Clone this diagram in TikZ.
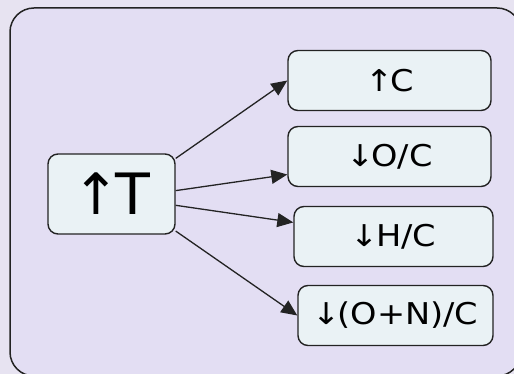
\documentclass[tikz,border=0pt]{standalone}
\usepackage{fontspec}
\setmainfont{DejaVu Sans}
\newfontfamily\lblfont[FakeStretch=1.12]{DejaVu Sans}
\usetikzlibrary{arrows.meta}
\definecolor{bgout}{RGB}{231,227,241}
\definecolor{bgin}{RGB}{227,222,243}
\definecolor{boxfill}{RGB}{234,242,245}
\definecolor{edge}{RGB}{35,35,35}
\newcommand{\up}{↑\kern-3pt}
\newcommand{\down}{↓\kern-3pt}
\begin{document}
\begin{tikzpicture}[x=1pt,y=1pt,line join=round,
  box/.style={draw=edge,line width=1.4pt,fill=boxfill,rounded corners=10pt,inner sep=0pt},
  small/.style={box,minimum height=60pt,font=\lblfont\fontsize{30}{33}\selectfont},
  link/.style={draw=edge,line width=1.3pt,-{Triangle[length=16pt,width=14pt]}}]
\def\W{514} \def\H{374}
\fill[bgout] (0,0) rectangle (\W,\H);
\useasboundingbox (0,0) rectangle (\W,\H);
\clip (0,0) rectangle (\W,\H);
\draw[edge,fill=bgin,line width=1.5pt,rounded corners=24pt] (10,-2) rectangle (521,366);
% left box
\node[box,minimum width=127pt,minimum height=80pt,font=\fontsize{57}{60}\selectfont] (T) at (111.5,180) {↑\kern-5pt T};
% right boxes
\node[small,minimum width=203pt] (C) at (389.5,293.5) {\up C};
\node[small,minimum width=203pt] (O) at (389.5,217.5) {\down O/C};
\node[small,minimum width=199pt] (H) at (393.5,137.5) {\down H/C};
\node[small,minimum width=195pt] (N) at (395.5,58.5) {\down(O+N)/C};
\draw[link] (T.29) -- (C.west);
\draw[link] (T.3) -- (O.-170);
\draw[link] (T.-10) -- (H.172);
\draw[link] (T.-30) -- (N.west);
\end{tikzpicture}
\end{document}
